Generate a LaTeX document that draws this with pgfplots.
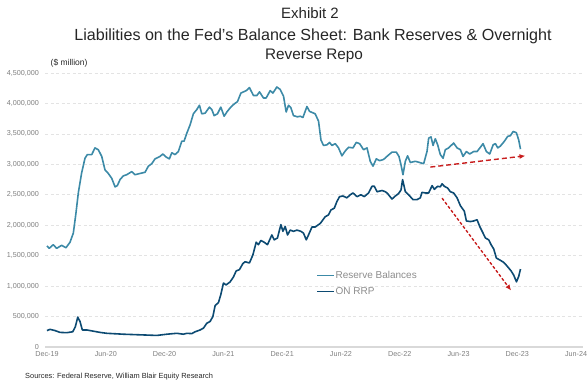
\documentclass[border=0pt]{standalone}
\usepackage{pgfplots}
\pgfplotsset{compat=1.18}
\usepackage{pgfplotstable}
\usepackage{fontspec}
\setmainfont{Liberation Sans}
\usetikzlibrary{arrows.meta}
\definecolor{resblue}{HTML}{3C8AA7}
\definecolor{rrpblue}{HTML}{0C4A72}
\definecolor{arrowred}{HTML}{C81E1E}
\definecolor{tickgray}{HTML}{7F7F7F}
\definecolor{leggray}{HTML}{8C8C8C}
\definecolor{gridgray}{HTML}{E3E3E3}
\definecolor{axisgray}{HTML}{D9D9D9}
\definecolor{titlegray}{HTML}{262626}

% x = months since Dec-2019, y = $ million
\pgfplotstableread{
x y
0.00 1660000
0.23 1620000
0.64 1680000
0.99 1620000
1.50 1670000
1.94 1630000
2.35 1720000
2.69 1870000
2.96 2200000
3.20 2530000
3.54 2860000
3.88 3100000
4.12 3160000
4.57 3160000
4.90 3270000
5.24 3240000
5.59 3130000
5.92 2910000
6.26 2850000
6.61 2770000
6.95 2630000
7.18 2650000
7.46 2750000
7.79 2810000
8.14 2830000
8.65 2880000
8.99 2830000
9.50 2850000
10.01 2870000
10.35 2970000
10.69 3010000
11.03 3090000
11.54 3130000
11.82 3170000
12.16 3120000
12.49 3090000
12.74 3190000
13.07 3160000
13.41 3210000
13.76 3380000
13.99 3380000
14.27 3510000
14.61 3650000
14.94 3830000
15.29 3900000
15.56 3970000
15.80 3830000
16.14 3840000
16.58 3940000
16.82 3900000
17.06 3800000
17.40 3830000
17.74 3940000
18.08 3790000
18.36 3860000
18.76 3940000
19.10 3990000
19.44 4030000
19.79 4170000
20.05 4190000
20.33 4210000
20.66 4260000
21.07 4130000
21.42 4130000
21.69 4190000
22.09 4090000
22.37 4090000
22.78 4210000
23.05 4170000
23.46 4270000
23.80 4230000
24.14 4120000
24.41 3860000
24.65 3970000
24.89 3930000
25.16 3800000
25.57 3780000
25.84 3790000
26.12 3770000
26.53 3950000
26.79 3870000
27.37 3830000
27.71 3710000
27.96 3400000
28.22 3310000
28.57 3320000
28.84 3360000
29.08 3310000
29.42 3340000
29.75 3270000
30.10 3140000
30.44 3220000
30.78 3280000
31.23 3270000
31.56 3360000
31.90 3340000
32.31 3240000
32.66 3270000
32.99 3050000
33.27 2970000
33.61 3090000
33.94 3060000
34.35 3080000
34.76 3140000
35.21 3200000
35.65 3200000
35.92 3130000
36.13 2990000
36.33 2830000
36.57 3050000
36.80 3140000
37.08 3030000
37.59 3050000
38.03 3030000
38.44 3010000
38.78 3210000
38.95 3430000
39.19 3450000
39.40 3310000
39.63 3420000
39.87 3320000
40.14 3160000
40.42 3100000
40.65 3240000
40.99 3270000
41.50 3350000
41.85 3270000
42.19 3240000
42.46 3130000
42.80 3210000
43.14 3170000
43.54 3210000
43.89 3210000
44.23 3280000
44.50 3340000
44.84 3210000
45.18 3170000
45.53 3320000
45.76 3340000
46.00 3270000
46.27 3300000
46.68 3380000
47.02 3460000
47.29 3470000
47.57 3540000
47.90 3520000
48.14 3400000
48.32 3250000
}\reserves

\pgfplotstableread{
x y
0.00 270000
0.31 290000
0.82 270000
1.33 240000
2.01 235000
2.63 250000
2.89 330000
3.14 490000
3.37 420000
3.61 280000
4.06 280000
4.73 260000
5.41 240000
6.10 225000
7.79 210000
9.50 200000
11.21 190000
12.23 210000
13.25 225000
13.92 210000
14.27 225000
14.78 220000
15.12 250000
15.63 280000
15.97 310000
16.31 390000
16.65 420000
16.93 500000
17.16 680000
17.50 730000
17.74 860000
18.01 1050000
18.28 1020000
18.69 1070000
19.03 1150000
19.31 1250000
19.64 1270000
19.99 1370000
20.22 1400000
20.66 1380000
21.01 1510000
21.35 1720000
21.58 1680000
21.83 1750000
22.17 1720000
22.50 1680000
22.95 1840000
23.19 1760000
23.52 1790000
23.87 2010000
24.08 1900000
24.31 1980000
24.55 1840000
24.82 1920000
25.16 1900000
25.51 1920000
25.91 1900000
26.18 1870000
26.46 1760000
26.69 1840000
27.04 1970000
27.37 1970000
27.89 2030000
28.40 2140000
28.73 2170000
28.98 2250000
29.32 2280000
29.59 2390000
29.86 2470000
30.20 2480000
30.61 2450000
30.95 2500000
31.23 2530000
31.64 2470000
32.04 2500000
32.38 2470000
32.82 2530000
33.17 2640000
33.40 2640000
33.68 2550000
34.19 2570000
34.53 2550000
34.76 2520000
35.21 2430000
35.55 2480000
35.88 2520000
36.13 2580000
36.29 2750000
36.57 2550000
36.91 2500000
37.35 2420000
37.76 2420000
38.10 2450000
38.27 2540000
38.61 2530000
38.95 2530000
39.30 2650000
39.53 2590000
39.87 2640000
40.14 2630000
40.32 2680000
40.55 2640000
40.89 2610000
41.16 2550000
41.50 2530000
41.85 2450000
42.19 2320000
42.59 2230000
42.80 2070000
43.21 2060000
43.54 2070000
43.89 2090000
44.16 1980000
44.50 1870000
44.74 1790000
45.08 1760000
45.32 1680000
45.59 1610000
45.86 1460000
46.20 1430000
46.61 1390000
46.95 1330000
47.36 1250000
47.63 1180000
47.91 1070000
48.14 1160000
48.32 1280000
}\onrrp

\begin{document}
\begin{tikzpicture}
\path[use as bounding box] (0,0) rectangle (588bp,386bp);
\begin{axis}[
  at={(45bp,39bp)}, anchor=south west,
  scale only axis, width=538bp, height=274bp,
  xmin=-0.2, xmax=54.7, ymin=0, ymax=4500000,
  xtick={0,6,...,54},
  xticklabels={Dec-19,Jun-20,Dec-20,Jun-21,Dec-21,Jun-22,Dec-22,Jun-23,Dec-23,Jun-24},
  ytick={0,500000,...,4500000},
  scaled y ticks=false,
  /pgf/number format/assume math mode=true,
  yticklabel={\pgfmathprintnumber[fixed,precision=0,1000 sep={,}]{\tick}},
  major tick length=0pt,
  ticklabel style={font=\fontsize{7.2bp}{8bp}\selectfont, text=tickgray},
  yticklabel style={xshift=-2.5bp},
  xticklabel style={yshift=-1bp},
  separate axis lines,
  axis x line*=bottom, axis y line*=left,
  x axis line style={draw=axisgray, line width=1.2bp, -},
  y axis line style={draw=none},
  ymajorgrids,
  grid style={dash pattern=on 3bp off 2.5bp, draw=gridgray, line width=0.6bp},
  clip=false,
  legend style={at={(0.504,0.281)}, anchor=north west, draw=none, fill=none,
    font=\fontsize{10bp}{12bp}\selectfont, text=leggray, inner sep=0pt,
    row sep=5.5bp, column sep=0pt,
    nodes={inner sep=0.5bp, text height=7.5bp, text depth=2bp, anchor=west}},
  legend cell align=left,
  legend image code/.code={\draw[#1, line width=1.8bp] (0bp,0bp) -- (17bp,0bp);},
]
\addplot[resblue, line width=1.6bp, line join=round] table {\reserves};
\addlegendentry{Reserve Balances}
\addplot[rrpblue, line width=1.6bp, line join=round] table {\onrrp};
\addlegendentry{ON RRP}
\addplot[forget plot, arrowred, line width=1.4bp, dash pattern=on 5bp off 3bp,
  -{Latex[length=6bp,width=5bp]}] coordinates {(39.12,2955000) (48.83,3140000)};
\addplot[forget plot, arrowred, line width=1.4bp, dash pattern=on 3bp off 2bp,
  -{Latex[length=6bp,width=5bp]}] coordinates {(40.32,2445000) (47.37,926000)};
\end{axis}
\node[anchor=base, font=\fontsize{15bp}{18bp}\selectfont, text=titlegray] at (310bp,367.5bp) {Exhibit 2};
\node[anchor=base, font=\fontsize{16.1bp}{19bp}\selectfont, text=titlegray] at (313bp,345.3bp) {Liabilities on the Fed's Balance Sheet: Bank Reserves \& Overnight};
\node[anchor=base, font=\fontsize{15.3bp}{18bp}\selectfont, text=titlegray] at (314bp,326.5bp) {Reverse Repo};
\node[anchor=west, font=\fontsize{8.5bp}{10bp}\selectfont, text=titlegray, inner sep=0pt] at (50.5bp,323bp) {(\$ million)};
\node[anchor=west, font=\fontsize{7.4bp}{8bp}\selectfont, text=titlegray, inner sep=0pt] at (25bp,9.3bp) {Sources: Federal Reserve, William Blair Equity Research};
\end{tikzpicture}
\end{document}
